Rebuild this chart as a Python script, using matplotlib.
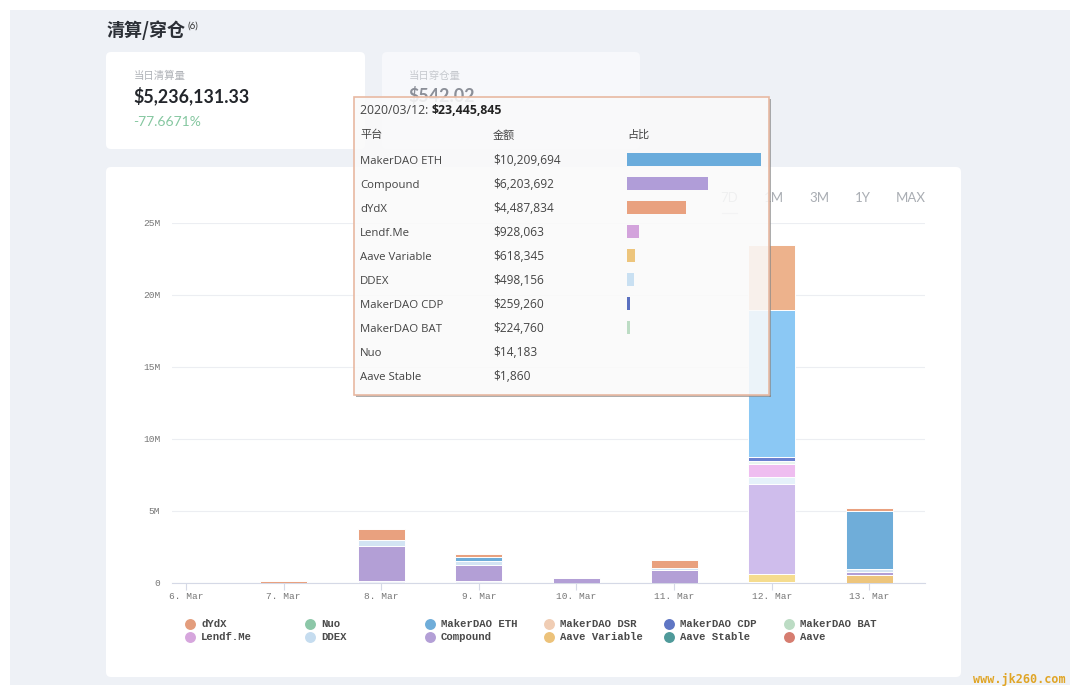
import matplotlib
matplotlib.use("Agg")
import matplotlib.pyplot as plt
from matplotlib.patches import FancyBboxPatch, Rectangle

CJK = ['Noto Sans CJK SC', 'DejaVu Sans']
plt.rcParams['font.family'] = CJK

days = ['6. Mar', '7. Mar', '8. Mar', '9. Mar', '10. Mar', '11. Mar', '12. Mar', '13. Mar']

# Stacked series, in USD, bottom to top
aave_stable = [0, 0, 0, 0, 0, 0, 1860, 0]
aave_variable = [0, 0, 0, 0, 0, 0, 618345, 490000]
compound = [0, 0, 2450000, 1090000, 300000, 850000, 6203692, 250000]
ddex = [0, 0, 400000, 280000, 0, 170000, 498156, 230000]
lendf = [0, 0, 0, 0, 0, 0, 928063, 0]
maker_bat = [0, 0, 0, 0, 0, 0, 224760, 0]
maker_cdp = [0, 0, 0, 0, 0, 0, 259260, 0]
maker_eth = [0, 0, 0, 300000, 0, 0, 10209694, 3990000]
nuo = [0, 0, 0, 0, 0, 0, 14183, 0]
dydx = [0, 120000, 750000, 200000, 0, 510000, 4487834, 190000]
base_gap = [0, 0, 100000, 120000, 0, 0, 0, 0]

stack_series = [base_gap, aave_stable, aave_variable, compound, ddex, lendf,
                maker_bat, maker_cdp, maker_eth, nuo, dydx]
stack_colors = ['#eef1f8', '#5a9e9e', '#edc57c', '#b39fd6', '#d3e4f3', '#d6a6dd',
                '#bcdcc4', '#5f76c4', '#6fadd9', '#8cc7a8', '#e9a17f']
hover_colors = ['#eef1f8', '#7cc0c0', '#f5dc8e', '#cfbdec', '#e5f1fa', '#efbdf0',
                '#e8f4ee', '#6a80d0', '#8bc8f4', '#a8e0c4', '#edb28c']
hover_index = 6

y_ticks = [0, 5e6, 10e6, 15e6, 20e6, 25e6]
y_labels = ['0', '5M', '10M', '15M', '20M', '25M']

legend_names = ['dYdX', 'Nuo', 'MakerDAO ETH', 'MakerDAO DSR', 'MakerDAO CDP', 'MakerDAO BAT',
                'Lendf.Me', 'DDEX', 'Compound', 'Aave Variable', 'Aave Stable', 'Aave']
legend_colors = ['#e39d7d', '#8cc7a8', '#6fadd9', '#f0cdb4', '#5f76c4', '#bcdcc4',
                 '#d6a6dd', '#c5dcef', '#b39fd6', '#ecc27a', '#4f9a9a', '#d67d70']

tip_names = ['MakerDAO ETH', 'Compound', 'dYdX', 'Lendf.Me', 'Aave Variable', 'DDEX',
             'MakerDAO CDP', 'MakerDAO BAT', 'Nuo', 'Aave Stable']
tip_values = [10209694, 6203692, 4487834, 928063, 618345, 498156, 259260, 224760, 14183, 1860]
tip_colors = ['#6aacdc', '#b09dd8', '#e9a17f', '#d3a3dc', '#edc57c', '#c9e0f2',
              '#5a70c0', '#bcdcc4', '#8cc7a8', '#5a9e9e']

periods = ['7D', '1M', '3M', '1Y', 'MAX']
period_x = [729, 774, 819, 863, 911]

W, H = 1080, 700
fig = plt.figure(figsize=(10.8, 7), dpi=100, facecolor='white')


def px_axes(x0, y0, x1, y1, z):
    return fig.add_axes([x0 / W, 1 - y1 / H, (x1 - x0) / W, (y1 - y0) / H], zorder=z)


# Background page, pixel coordinates
bg = px_axes(0, 0, W, H, 0)
bg.set_xlim(0, W); bg.set_ylim(H, 0); bg.axis('off')
bg.add_patch(Rectangle((10, 10), 1060, 675, fc='#eef1f6', ec='none'))


def card(x0, y0, x1, y1, fc='white'):
    bg.add_patch(FancyBboxPatch((x0 + 4, y0 + 4), x1 - x0 - 8, y1 - y0 - 8,
                                boxstyle='round,pad=4,rounding_size=5', fc=fc, ec='none'))


card(106, 52, 365, 149)
card(382, 52, 640, 149, '#f7f8fb')
card(106, 167, 961, 677)

bg.text(107, 30, '清算/穿仓', fontsize=13, fontweight='bold', color='#2b2f36', va='center', family=CJK)
bg.text(188, 26, '(6)', fontsize=7, color='#333333', va='center', family='Lato')
bg.text(134, 75.5, '当日清算量', fontsize=7.5, color='#b0b3b8', va='center')
bg.text(133, 96, '$5,236,131.33', fontsize=12.9, fontweight='bold', color='#23262b', va='center', family='Lato')
bg.text(133, 122, '-77.6671%', fontsize=10, color='#85c7a0', va='center', family='Lato')
bg.text(409, 75.5, '当日穿仓量', fontsize=7.5, color='#c6c9ce', va='center')
bg.text(408, 96, '$542.02', fontsize=12.9, fontweight='bold', color='#8b8f98', va='center', family='Lato')

for label, x in zip(periods, period_x):
    bg.text(x, 198, label, fontsize=9.5, color='#a9adb3', ha='center', va='center', family='Lato')
bg.plot([722, 737], [213, 213], color='#c8ccd2', lw=1)

# Legend, laid out on a regular grid
for i, (name, color) in enumerate(zip(legend_names, legend_colors)):
    col, row = i % 6, i // 6
    x = 190 + col * 119.8
    y = 624 + row * 12.8
    bg.scatter([x], [y], s=62, color=color, linewidths=0)
    bg.text(x + 11, y, name, fontsize=7.7, fontweight='bold', color='#4a4a4a', va='center',
            family='Liberation Mono')

bg.text(1066, 680, 'www.jk260.com', fontsize=8.5, fontweight='bold', color='#e0a526',
        ha='right', va='center', family='DejaVu Sans Mono')

# Chart
ax = px_axes(172, 223, 925, 582.5, 1)
ax.patch.set_alpha(0)
x_pos = list(range(len(days)))
bottom = [0.0] * len(days)
for values, color, hover in zip(stack_series, stack_colors, hover_colors):
    colors = [hover if i == hover_index else color for i in x_pos]
    ax.bar(x_pos, values, width=0.48, bottom=bottom, color=colors, edgecolor='white', linewidth=0.7, zorder=3)
    bottom = [b + v for b, v in zip(bottom, values)]
ax.set_xlim(-0.143, 7.57)
ax.set_ylim(0, 25e6)
ax.set_xticks(x_pos)
ax.set_xticklabels(days, family='Liberation Mono', fontsize=6.8, color='#777777')
ax.set_yticks(y_ticks)
ax.set_yticklabels(y_labels, family='Liberation Mono', fontsize=6.8, color='#777777')
ax.tick_params(axis='x', length=5, width=0.8, color='#d5d9e6', pad=1.5)
ax.tick_params(axis='y', length=0, pad=8.5)
ax.grid(axis='y', color='#eceef2', lw=0.8, zorder=0)
for s in ['top', 'right', 'left']:
    ax.spines[s].set_visible(False)
ax.spines['bottom'].set_color('#d5d9e6')
ax.set_axisbelow(True)

# Tooltip overlay
tp = px_axes(0, 0, W, H, 2)
tp.set_xlim(0, W); tp.set_ylim(H, 0); tp.axis('off'); tp.patch.set_alpha(0)
tp.add_patch(Rectangle((769, 99), 1.5, 297.5, fc='#8a8a8a', ec='none', alpha=0.7))
tp.add_patch(Rectangle((356, 395), 414.5, 1.5, fc='#8a8a8a', ec='none', alpha=0.7))
tp.add_patch(Rectangle((354, 97), 415, 298, fc='#fafafa', ec='none', alpha=0.87))
tp.add_patch(Rectangle((354, 97), 415, 298, fc='none', ec='#e8b9a2', lw=1.2))
TXT = '#444444'
SANS = ['Open Sans', 'Noto Sans CJK SC', 'DejaVu Sans']
t = tp.text(360, 110, '2020/03/12: ', fontsize=8.8, color=TXT, va='center', family=SANS)
tp.annotate('$23,445,845', xy=(1, 0.5), xycoords=t, fontsize=8.8, fontweight='bold', color='#222222',
            va='center', family=SANS)
tp.text(360, 135, '平台', fontsize=8, color=TXT, va='center', family=CJK)
tp.text(493, 135, '金额', fontsize=8, color=TXT, va='center', family=CJK)
tp.text(627, 135, '占比', fontsize=8, color=TXT, va='center', family=CJK)
for i, (name, value) in enumerate(zip(tip_names, tip_values)):
    y = 163.5 + i * 24.05
    tp.text(360, y, name, fontsize=8.2, color=TXT, va='baseline', family=SANS)
    tp.text(493, y, f'${value:,}', fontsize=8.6, color=TXT, va='baseline', family=SANS)

tb = px_axes(627, 147.5, 761, 147.5 + 24.05 * 10, 3)
tb.patch.set_alpha(0); tb.axis('off')
tb.barh(range(len(tip_values)), tip_values, height=0.55, color=tip_colors)
tb.set_xlim(0, max(tip_values))
tb.set_ylim(len(tip_values) - 0.5, -0.5)

fig.savefig('out.png', dpi=100)
